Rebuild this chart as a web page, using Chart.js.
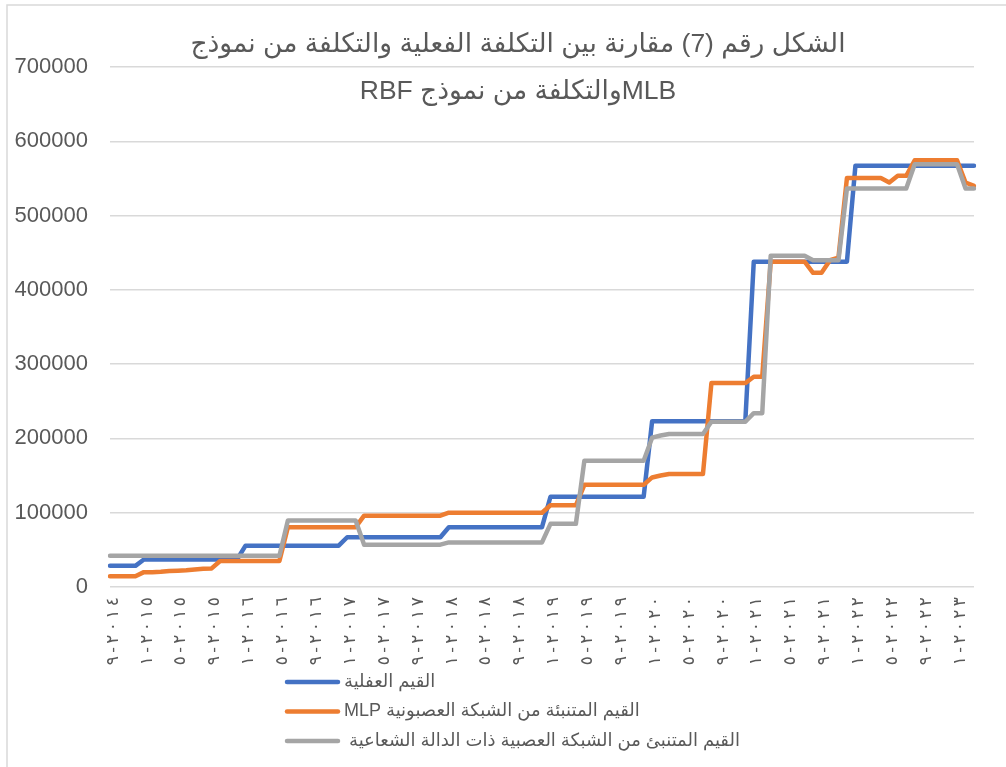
<!DOCTYPE html>
<html>
<head>
<meta charset="utf-8">
<script src="https://cdn.jsdelivr.net/npm/chart.js@4.4.1/dist/chart.umd.min.js"></script>
<style>
  body { margin: 0; background: #fff; }
  canvas { display: block; }
</style>
</head>
<body>
<canvas id="chart" width="1006" height="767"></canvas>
<script>
const titleLines = [
  'الشكل رقم (7) مقارنة بين التكلفة الفعلية والتكلفة من نموذج',
  'MLBوالتكلفة من نموذج RBF'
]

const seriesNames = [
  'القيم العفلية',
  'القيم المتنبئة من الشبكة العصبونية MLP',
  'القيم المتنبئ من الشبكة العصبية ذات الدالة الشعاعية '
]

// monthly categories, 2014-9 .. 2023-3
const months = []
for (let y = 2014, m = 9; !(y === 2023 && m > 3);) {
  months.push(`${y}-${m}`)
  if (++m > 12) { m = 1; y++ }
}

// every 4th month gets a label (as it reads on the axis: month-year)
const tickLabels = [
  '٩-٢٠١٤',
  '١-٢٠١٥', '٥-٢٠١٥', '٩-٢٠١٥',
  '١-٢٠١٦', '٥-٢٠١٦', '٩-٢٠١٦',
  '١-٢٠١٧', '٥-٢٠١٧', '٩-٢٠١٧',
  '١-٢٠١٨', '٥-٢٠١٨', '٩-٢٠١٨',
  '١-٢٠١٩', '٥-٢٠١٩', '٩-٢٠١٩',
  '١-٢٠٢٠', '٥-٢٠٢٠', '٩-٢٠٢٠',
  '١-٢٠٢١', '٥-٢٠٢١', '٩-٢٠٢١',
  '١-٢٠٢٢', '٥-٢٠٢٢', '٩-٢٠٢٢',
  '١-٢٠٢٣'
]

const yTicks = [0, 100000, 200000, 300000, 400000, 500000, 600000, 700000]

// actual cost
const actual = [
  28500, 28500, 28500, 28500,
  37000, 37000, 37000, 37000, 37000, 37000, 37000, 37000, 37000, 37000, 37000, 37000,
  55600, 55600, 55600, 55600, 55600, 55600, 55600, 55600, 55600, 55600, 55600, 55600,
  67000, 67000, 67000, 67000, 67000, 67000, 67000, 67000, 67000, 67000, 67000, 67000,
  80500, 80500, 80500, 80500, 80500, 80500, 80500, 80500, 80500, 80500, 80500, 80500,
  121500, 121500, 121500, 121500, 121500, 121500, 121500, 121500, 121500, 121500, 121500, 121500,
  223000, 223000, 223000, 223000, 223000, 223000, 223000, 223000, 223000, 223000, 223000, 223000,
  438000, 438000, 438000, 438000, 438000, 438000, 438000, 438000, 438000, 438000, 438000, 438000,
  567000, 567000, 567000, 567000, 567000, 567000, 567000, 567000, 567000, 567000, 567000, 567000,
  567000, 567000, 567000
]

// MLP prediction
const mlp = [
  14500, 14500, 14500, 14500,
  20000, 20000, 20500, 21500, 22000, 22500, 23500, 24500, 25000, 35000, 35000, 35000,
  35000, 35000, 35000, 35000, 35000, 80500, 80500, 80500, 80500, 80500, 80500, 80500,
  80500, 80500, 96000, 96000, 96000, 96000, 96000, 96000, 96000, 96000, 96000, 96000,
  100000, 100000, 100000, 100000, 100000, 100000, 100000, 100000, 100000, 100000, 100000, 100000,
  110000, 110000, 110000, 110000, 137500, 137500, 137500, 137500, 137500, 137500, 137500, 137500,
  147500, 150000, 152000, 152000, 152000, 152000, 152000, 274500, 274500, 274500, 274500, 274500,
  283000, 283000, 438000, 438000, 438000, 438000, 438000, 423000, 423000, 440000, 443500, 550500,
  550500, 550500, 550500, 550500, 544500, 553500, 553500, 574500, 574500, 574500, 574500, 574500,
  574500, 544500, 540000
]

// RBF prediction
const rbf = [
  42000, 42000, 42000, 42000,
  42000, 42000, 42000, 42000, 42000, 42000, 42000, 42000, 42000, 42000, 42000, 42000,
  42000, 42000, 42000, 42000, 42000, 89500, 89500, 89500, 89500, 89500, 89500, 89500,
  89500, 89500, 57000, 57000, 57000, 57000, 57000, 57000, 57000, 57000, 57000, 57000,
  60000, 60000, 60000, 60000, 60000, 60000, 60000, 60000, 60000, 60000, 60000, 60000,
  85000, 85000, 85000, 85000, 170000, 170000, 170000, 170000, 170000, 170000, 170000, 170000,
  201000, 204000, 206000, 206000, 206000, 206000, 206000, 222500, 222500, 222500, 222500, 222500,
  234000, 234000, 446000, 446000, 446000, 446000, 446000, 440000, 440000, 440000, 440000, 536500,
  536500, 536500, 536500, 536500, 536500, 536500, 536500, 569000, 569000, 569000, 569000, 569000,
  569000, 536500, 536500
]

const seriesColors = ['#4472C4', '#ED7D31', '#A5A5A5']
const textColor = '#595959'
const fontFamily = '"Liberation Sans", "DejaVu Sans", sans-serif'

// force left-to-right order (LRO ... PDF) and space the characters out a little
function tickText (label) {
  return '\u202D' + label.split('').join('\u2009') + '\u202C'
}

const decorations = {
  id: 'decorations',
  beforeDraw (chart) {
    const { ctx } = chart
    ctx.save()
    ctx.fillStyle = '#fff'
    ctx.fillRect(0, 0, chart.width, chart.height)
    ctx.strokeStyle = '#d9d9d9'
    ctx.lineWidth = 1.5
    ctx.strokeRect(7, 5, chart.width, chart.height)
    ctx.restore()
  },
  afterDraw (chart) {
    const { ctx } = chart
    ctx.save()
    ctx.direction = 'rtl'
    ctx.fillStyle = textColor
    ctx.textBaseline = 'middle'

    // Title
    ctx.textAlign = 'center'
    ctx.font = `26.5px ${fontFamily}`
    titleLines.forEach((line, i) => ctx.fillText(line, 518, 45 + i * 47))

    // Legend
    ctx.textAlign = 'left'
    ctx.font = `18px ${fontFamily}`
    chart.data.datasets.forEach((ds, i) => {
      const y = 682 + i * 29.5
      ctx.strokeStyle = ds.borderColor
      ctx.lineWidth = 4.5
      ctx.lineCap = 'round'
      ctx.beginPath()
      ctx.moveTo(287, y)
      ctx.lineTo(338, y)
      ctx.stroke()
      ctx.fillText(ds.label, 344, y)
    })
    ctx.restore()
  }
}

const seriesData = [actual, mlp, rbf]

new Chart(document.getElementById('chart'), {
  type: 'line',
  data: {
    labels: months,
    datasets: seriesData.map((values, i) => ({
      label: seriesNames[i],
      data: values,
      borderColor: seriesColors[i],
      backgroundColor: seriesColors[i],
      borderWidth: 4.5,
      borderJoinStyle: 'round',
      borderCapStyle: 'round',
      pointRadius: 0,
      tension: 0,
      fill: false,
      order: 2 - i
    }))
  },
  options: {
    responsive: false,
    animation: false,
    devicePixelRatio: 1,
    layout: {
      padding: { left: 8, top: 67, right: 32, bottom: 100 }
    },
    plugins: {
      legend: { display: false },
      title: { display: false },
      tooltip: { enabled: false }
    },
    scales: {
      x: {
        afterFit: (scale) => { scale.height = 80 },
        grid: { display: false, drawTicks: false },
        border: { display: false },
        ticks: {
          autoSkip: false,
          minRotation: 90,
          maxRotation: 90,
          padding: 10,
          labelOffset: 3,
          color: textColor,
          font: { size: 17, family: fontFamily },
          callback: (value, index) => index % 4 === 0 ? tickText(tickLabels[index / 4]) : null
        }
      },
      y: {
        min: yTicks[0],
        max: yTicks[yTicks.length - 1],
        afterFit: (scale) => { scale.width = 102 },
        afterBuildTicks: (scale) => { scale.ticks = yTicks.map(v => ({ value: v })) },
        grid: { color: '#d9d9d9', lineWidth: 1.5, drawTicks: false },
        border: { display: false },
        ticks: {
          padding: 22,
          color: textColor,
          font: { size: 22, family: fontFamily },
          callback: (value) => String(value)
        }
      }
    }
  },
  plugins: [decorations]
})
</script>
</body>
</html>
